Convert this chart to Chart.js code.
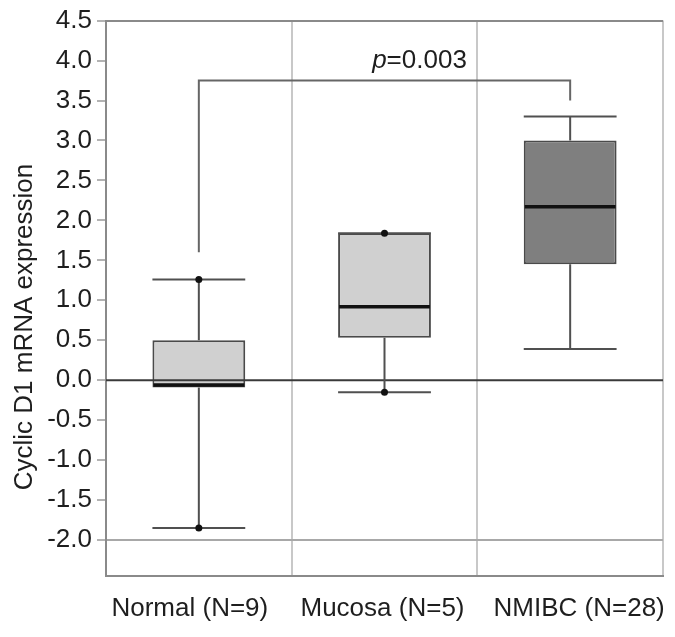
<!DOCTYPE html>
<html>
<head>
<meta charset="utf-8">
<script src="https://cdn.jsdelivr.net/npm/chart.js@4.4.1/dist/chart.umd.min.js"></script>
<style>
html,body{margin:0;padding:0;background:#fff;}
#wrap{width:675px;height:637px;position:relative;}
</style>
</head>
<body>
<div id="wrap"><canvas id="c"></canvas></div>
<script>
// ---- data ----
const categories = ['Normal (N=9)', 'Mucosa (N=5)', 'NMIBC (N=28)'];
const whiskerLow  = [-1.85, -0.15, 0.39];
const q1          = [-0.09,  0.53, 1.45];
const median      = [-0.06,  0.92, 2.17];
const q3          = [ 0.50,  1.84, 3.00];
const whiskerHigh = [ 1.26,  1.84, 3.30];
const markedPoints = [[1.26, -1.85], [1.84, -0.15], []];
const yTickValues = [-2.0, -1.5, -1.0, -0.5, 0.0, 0.5, 1.0, 1.5, 2.0, 2.5, 3.0, 3.5, 4.0, 4.5];
const yAxisTitle = 'Cyclic D1 mRNA expression';
const pValueText = '0.003';
const bracketLevel = 3.75;
const bracketLeftEnd = 1.6;
const bracketRightEnd = 3.5;
const bracketFrom = 0, bracketTo = 2;

const FONT = "'Liberation Sans', Arial, Helvetica, sans-serif";
const TEXT = '#1e1e1e';
const boxFills = ['#d0d0d0', '#d0d0d0', '#7f7f7f'];
const labelShift = [-9, -2, 9];

const boxPlugin = {
  id: 'boxplotExtras',
  afterDatasetsDraw(chart) {
    const ctx = chart.ctx;
    const ys = chart.scales.y;
    const xs = chart.scales.x;
    const ca = chart.chartArea;
    const meta = chart.getDatasetMeta(0);
    ctx.save();
    // zero line
    const y0 = ys.getPixelForValue(0);
    ctx.strokeStyle = '#3a3a3a';
    ctx.lineWidth = 2;
    ctx.beginPath();
    ctx.moveTo(ca.left, y0);
    ctx.lineTo(ca.right, y0);
    ctx.stroke();

    meta.data.forEach((bar, i) => {
      const cx = bar.x;
      const half = bar.width / 2;
      const pLo = ys.getPixelForValue(whiskerLow[i]);
      const pHi = ys.getPixelForValue(whiskerHigh[i]);
      const pQ1 = ys.getPixelForValue(q1[i]);
      const pQ3 = ys.getPixelForValue(q3[i]);
      const pMed = ys.getPixelForValue(median[i]);
      ctx.strokeStyle = '#505050';
      ctx.lineWidth = 2;
      ctx.beginPath();
      ctx.moveTo(cx, pQ1); ctx.lineTo(cx, pLo);
      ctx.moveTo(cx, pQ3); ctx.lineTo(cx, pHi);
      ctx.moveTo(cx - half, pLo); ctx.lineTo(cx + half, pLo);
      ctx.moveTo(cx - half, pHi); ctx.lineTo(cx + half, pHi);
      ctx.stroke();
      // median
      ctx.strokeStyle = '#111';
      ctx.lineWidth = 3.5;
      ctx.beginPath();
      ctx.moveTo(cx - half + 1, pMed); ctx.lineTo(cx + half - 1, pMed);
      ctx.stroke();
      // dots
      ctx.fillStyle = '#111';
      markedPoints[i].forEach(v => {
        ctx.beginPath();
        ctx.arc(cx, ys.getPixelForValue(v), 3.5, 0, Math.PI * 2);
        ctx.fill();
      });
    });

    // significance bracket
    const xa = meta.data[bracketFrom].x;
    const xb = meta.data[bracketTo].x;
    const yl = ys.getPixelForValue(bracketLevel);
    ctx.strokeStyle = '#666';
    ctx.lineWidth = 2;
    ctx.beginPath();
    ctx.moveTo(xa, ys.getPixelForValue(bracketLeftEnd));
    ctx.lineTo(xa, yl);
    ctx.lineTo(xb, yl);
    ctx.lineTo(xb, ys.getPixelForValue(bracketRightEnd));
    ctx.stroke();

    // p value label
    ctx.fillStyle = TEXT;
    ctx.textBaseline = 'alphabetic';
    ctx.textAlign = 'left';
    ctx.font = 'italic 26px ' + FONT;
    const pw = ctx.measureText('p').width;
    ctx.font = '26px ' + FONT;
    const rest = '=' + pValueText;
    const rw = ctx.measureText(rest).width;
    const tx = meta.data[1].x + 35 - (pw + rw) / 2;
    const ty = yl - 13;
    ctx.font = 'italic 26px ' + FONT;
    ctx.fillText('p', tx, ty);
    ctx.font = '26px ' + FONT;
    ctx.fillText(rest, tx + pw, ty);

    // category labels
    ctx.textAlign = 'center';
    ctx.textBaseline = 'middle';
    ctx.font = '26px ' + FONT;
    categories.forEach((lab, i) => {
      ctx.fillText(lab, xs.getPixelForValue(i) + labelShift[i], ca.bottom + 33);
    });

    // y axis title
    ctx.save();
    ctx.translate(25, 327);
    ctx.rotate(-Math.PI / 2);
    ctx.textAlign = 'center';
    ctx.textBaseline = 'middle';
    ctx.font = '26px ' + FONT;
    ctx.fillText(yAxisTitle, 0, 0);
    ctx.restore();

    ctx.restore();
  }
};

new Chart(document.getElementById('c'), {
  type: 'bar',
  data: {
    labels: categories,
    datasets: [{
      data: categories.map((c, i) => [q1[i], q3[i]]),
      backgroundColor: boxFills,
      borderColor: '#4a4a4a',
      borderWidth: 2,
      borderSkipped: false,
      barPercentage: 0.5,
      categoryPercentage: 1.0
    }]
  },
  options: {
    responsive: true,
    maintainAspectRatio: false,
    animation: false,
    devicePixelRatio: 1,
    layout: { padding: { top: 20, right: 12, left: 0, bottom: 0 } },
    plugins: { legend: { display: false }, tooltip: { enabled: false }, title: { display: false } },
    scales: {
      x: {
        offset: true,
        grid: {
          offset: true,
          drawTicks: false,
          color: (c) => (c.index === categories.length ? '#8a8a8a' : '#c8c8c8'),
          lineWidth: 2
        },
        border: { color: '#8a8a8a', width: 2 },
        ticks: { display: false },
        afterFit: (s) => { s.height = 61; }
      },
      y: {
        min: -2.45,
        max: 4.5,
        afterBuildTicks: (s) => { s.ticks = yTickValues.map(v => ({ value: v })); },
        grid: {
          color: (c) => {
            const v = c.tick ? c.tick.value : null;
            if (v === 4.5) return '#8a8a8a';
            if (v === -2.0) return '#a8a8a8';
            return 'rgba(0,0,0,0)';
          },
          lineWidth: 2,
          drawTicks: true,
          tickLength: 9,
          tickColor: '#9a9a9a',
          tickWidth: 1.5
        },
        border: { color: '#8a8a8a', width: 2 },
        ticks: {
          color: TEXT,
          font: { family: FONT, size: 26 },
          padding: 5,
          callback: (v) => Number(v).toFixed(1)
        },
        afterFit: (s) => { s.width = 106; }
      }
    }
  },
  plugins: [boxPlugin]
});
</script>
</body>
</html>
